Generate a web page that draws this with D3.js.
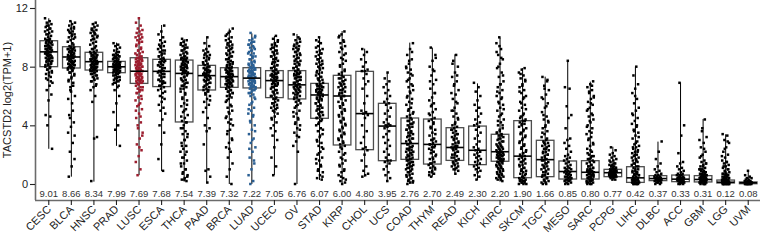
<!DOCTYPE html>
<html><head><meta charset="utf-8">
<script src="https://cdn.jsdelivr.net/npm/d3@7"></script>
<style>body{margin:0;background:#fff;} svg{display:block;font-family:"Liberation Sans",Arial,sans-serif;}</style>
</head><body><svg id="c" width="763" height="241"></svg>
<script>
const categories = ["CESC","BLCA","HNSC","PRAD","LUSC","ESCA","THCA","PAAD","BRCA","LUAD","UCEC","OV","STAD","KIRP","CHOL","UCS","COAD","THYM","READ","KICH","KIRC","SKCM","TGCT","MESO","SARC","PCPG","LIHC","DLBC","ACC","GBM","LGG","UVM"];
const medians = [9.01,8.66,8.34,7.99,7.69,7.68,7.54,7.39,7.32,7.22,7.05,6.76,6.07,6.00,4.80,3.95,2.76,2.70,2.49,2.30,2.20,1.90,1.66,0.85,0.80,0.77,0.42,0.37,0.33,0.31,0.12,0.08];
const q1 = [8.00,7.91,7.77,7.59,6.86,6.64,4.23,6.41,6.59,6.55,5.89,5.80,4.48,2.66,2.34,1.59,1.68,1.36,1.61,1.32,1.55,0.43,0.50,0.34,0.34,0.50,0.11,0.23,0.16,0.14,0.07,0.02];
const q3 = [9.77,9.36,8.98,8.36,8.61,8.50,8.45,8.09,7.93,7.93,7.73,7.73,6.86,7.41,7.68,5.50,4.50,4.43,3.84,3.95,3.39,4.32,2.98,1.57,1.59,1.00,1.18,0.57,0.61,0.57,0.27,0.14];
const whiskerLow = [2.4,0.5,0.16,2.6,0.6,0.89,0.16,0.05,0,0,0.61,0,0.27,0,0.5,0.16,0,0.5,0.73,0.27,0.16,0,0,0,0,0.3,0,0,0,0,0,0];
const whiskerHigh = [11.3,11.1,11.0,9.64,11.3,10.84,9.89,10.04,10.6,10.27,10.09,10.23,10.0,10.43,9.23,7.59,9.64,9.3,8.84,6.86,9.98,7.89,7.32,8.39,6.98,2.54,8.0,2.89,6.93,4.43,3.39,0.89];
const highlight = {LUSC:"#9c1d2e", LUAD:"#2a5f93"};
// sample point values per category, written in tenths of log2(TPM+1)
const pointValues = [
"113 111 110 109 108 107 106 105 104 103 102 101 100 99 99 98 97 97 96 96 95 95 94 94 93 93 92 92 91 91 90 90 90 89 89 88 88 87 87 86 86 85 84 84 83 82 81 80 79 78 77 76 75 73 71 69 67 64 61 57 47 46 40 24 98 97 96 95 94 93 92 91 90 89 88 87 86 85 84 83 82 81 80 78 76 74 72 70 102 104 106 108",
"111 110 109 108 107 106 105 104 103 102 101 100 99 98 97 96 94 93 93 92 92 91 91 90 90 89 89 88 88 87 87 87 86 86 85 85 84 84 83 83 82 82 81 81 80 80 79 79 78 77 76 74 72 70 67 64 60 55 47 42 39 35 28 22 17 12 5 95 93 92 91 90 89 88 87 86 85 84 83 82 81 80 79 78 76 75 73 71 69 66 100 102 104 106 63 58 50 45 33",
"110 109 108 107 106 105 104 103 102 101 100 99 98 97 96 95 93 92 91 90 89 89 88 88 87 87 86 86 85 85 85 84 84 84 83 83 83 82 82 82 81 81 80 80 80 79 79 79 78 78 78 77 77 76 75 74 73 72 71 70 68 66 64 60 56 32 31 2 94 92 90 89 88 87 86 85 84 83 82 81 80 79 78 77 76 75 74 72 70 67 99 101 103 105",
"96 95 94 93 92 91 90 89 88 88 87 87 86 86 85 84 83 83 83 82 82 82 81 81 81 80 80 80 80 80 80 79 79 79 78 78 78 77 77 77 76 76 76 75 74 73 72 71 70 69 68 66 64 60 55 49 40 37 26 90 88 87 86 85 84 84 83 82 81 80 79 79 78 77 76 75 74 73 72 71 70 69 67",
"113 110 108 106 105 104 103 102 101 100 99 98 97 96 94 92 91 90 89 88 87 86 85 85 84 84 83 83 82 82 81 81 80 80 79 79 78 78 77 76 76 75 75 74 74 73 73 72 72 71 71 70 70 69 69 68 67 66 65 64 63 62 60 59 57 55 53 51 48 45 42 38 35 31 27 23 19 15 10 6 100 97 95 93 91 89 87 86 85 84 83 82 81 80 79 78 77 76 75 74 73 72 71 70 69 68 66 64 62 58 54 50 46 40 33 25",
"108 104 102 100 98 97 96 95 94 93 92 91 90 89 88 87 86 85 84 84 83 83 82 81 81 80 79 78 77 77 76 76 75 74 73 72 71 70 70 69 68 67 66 65 64 62 60 58 56 54 52 50 48 44 40 35 27 17 9 94 91 89 87 85 83 81 79 77 75 73 71 69 67 63 59",
"99 98 97 96 95 94 93 92 91 90 89 88 87 86 86 85 85 84 83 83 82 82 81 81 80 80 79 79 78 78 77 77 76 76 75 74 73 72 71 70 69 68 67 66 65 63 61 59 57 55 53 51 49 47 45 43 42 40 38 36 34 32 30 28 26 24 22 20 18 16 14 12 10 8 6 4 3 2 97 95 93 91 89 87 86 85 84 83 82 81 80 79 78 77 76 75 73 71 69 67 65 62 58 54 50 46 42 38 34 30 26 22 18 14 10 7 5 3",
"100 96 94 92 91 90 89 88 87 86 85 84 83 82 81 80 79 79 78 78 77 77 76 76 75 75 74 73 73 72 71 71 70 69 68 67 66 65 64 63 62 60 58 56 54 52 49 45 40 38 36 27 10 9 5 1 88 86 84 82 80 78 77 76 75 74 73 72 71 70 69 68 66 64 61 57",
"106 104 102 100 99 98 97 96 95 94 93 92 91 90 89 88 87 86 85 84 83 82 81 80 79 79 78 78 77 77 76 76 75 75 74 74 73 73 73 72 72 71 71 70 70 69 69 68 68 67 67 66 65 64 63 62 61 60 59 58 56 54 52 50 48 46 44 42 40 37 34 31 28 25 22 18 14 10 5 0 103 101 97 95 93 91 89 87 85 83 82 81 80 79 78 77 76 75 74 73 72 71 70 69 68 67 66 65 64 63 62 60 57 53 49 45 41 36 30 24",
"103 101 99 98 97 96 95 94 93 92 91 90 89 88 87 86 85 84 83 82 81 80 79 79 78 78 77 77 76 76 75 75 74 74 73 73 72 72 71 71 70 70 69 69 68 68 67 67 66 66 65 64 63 62 61 60 58 56 54 52 50 48 46 43 40 37 34 31 28 25 22 18 14 10 6 2 0 100 97 95 93 91 89 87 85 83 82 81 80 79 78 77 76 75 74 73 72 71 70 69 68 67 66 65 64 62 59 55 51 47 42 36 30 24 16",
"101 99 97 96 95 94 93 92 91 90 89 88 87 86 85 84 83 82 81 80 79 78 77 76 76 75 75 74 74 73 73 72 72 71 71 70 69 68 68 67 66 65 64 63 62 61 60 59 58 57 56 55 54 53 52 51 50 48 46 44 42 40 38 36 33 30 25 18 12 6 98 95 93 91 89 87 85 83 81 80 79 78 77 76 75 74 73 72 71 70 69 68 67 66 64 62 60 58 55 52 49 45",
"102 100 98 97 96 95 94 93 92 91 90 89 88 87 86 85 84 83 82 81 80 79 78 77 76 76 75 75 74 73 73 72 71 70 69 68 67 66 66 65 64 63 62 62 61 60 59 58 57 56 55 54 52 50 48 46 44 42 40 38 35 32 29 26 22 0 99 96 94 92 90 88 86 84 82 80 79 78 77 76 75 74 73 72 71 70 69 68 67 66 65 64 63 61 59 57 53 49 45 41 37 33",
"100 98 96 94 92 91 90 89 88 87 86 85 84 83 82 81 80 79 78 77 76 75 74 73 72 71 70 68 67 67 66 65 65 64 63 63 62 61 60 59 58 57 56 55 54 53 52 51 50 49 48 47 46 45 44 42 40 38 36 34 32 30 28 26 24 22 20 18 16 14 12 10 8 6 4 3 97 93 89 85 82 79 76 73 71 69 68 67 66 65 64 63 62 61 60 59 58 57 55 53 51 49 47 45 43 41 37 33 29 25 21 17 13 9 5",
"104 102 100 98 96 94 92 90 88 86 84 82 80 78 76 75 73 72 71 70 69 68 67 66 65 64 63 62 61 60 59 57 55 53 51 49 47 45 43 41 39 37 35 33 31 29 27 26 24 22 20 18 16 14 12 10 8 6 4 2 1 0 101 97 93 89 85 81 77 74 72 70 68 66 64 62 60 58 56 54 52 50 48 46 44 42 40 38 36 34 32 30 28 25 21 17 13 9 5 3",
"92 90 88 85 83 80 78 77 77 75 72 70 68 65 60 55 50 49 48 47 45 40 36 32 28 25 24 23 20 16 12 9 7 6 5",
"76 72 70 68 66 64 62 60 58 56 55 54 52 50 48 46 44 42 41 40 40 39 38 36 34 32 30 28 26 24 22 20 18 16 16 15 14 12 10 8 6 4 2",
"96 92 88 85 82 80 78 76 74 72 70 68 66 64 62 60 58 56 54 52 50 48 47 46 44 43 42 41 40 39 38 37 36 35 34 33 32 31 30 29 28 27 26 25 24 23 23 22 21 20 20 19 18 17 16 15 14 13 12 11 10 9 8 7 6 5 4 3 2 1 0 90 84 79 75 71 67 63 59 55 51 49 45 43 41 39 37 35 33 31 29 27 25 24 22 21 19 18 17 16 15 14 13 12 11 10 8 6 4 2 1",
"93 88 84 80 77 74 71 68 65 62 59 57 55 53 51 49 47 45 44 43 41 39 37 35 33 31 30 29 28 27 26 25 24 22 21 19 18 17 15 14 13 12 11 10 9 8 7 5 86 78 70 62 54 48 42 38 34 30 27 25 23 20 17 14 11 8 6",
"88 84 80 76 73 70 67 64 61 58 55 52 50 48 46 44 42 40 39 38 37 36 35 34 33 32 31 30 29 28 27 26 25 25 24 23 22 21 20 19 18 17 16 15 14 13 12 11 10 9 7 82 74 68 62 56 50 45 41 37 34 31 28 26 24 22 20 18 16 14 12 10",
"69 66 63 60 57 54 52 50 48 46 44 42 41 40 39 37 35 33 31 29 27 25 24 23 22 21 20 19 18 17 16 15 14 13 12 11 10 9 8 6 5 3",
"100 96 92 88 85 82 79 76 73 70 68 66 64 62 60 58 56 54 52 50 48 46 44 42 40 38 36 35 34 33 32 31 30 29 28 27 26 25 24 23 22 22 21 20 20 19 19 18 18 17 17 16 16 15 15 14 13 12 11 10 9 8 7 6 5 4 3 2 94 90 86 80 74 68 63 59 55 51 47 43 40 37 35 33 31 29 27 26 25 24 23 22 21 21 20 20 19 18 17 16 15 14 13 12 11 10 9 8 7 6 5 4 3",
"79 78 76 74 72 70 68 66 64 62 60 58 56 54 52 50 48 46 44 43 42 41 40 38 36 34 32 30 28 26 24 22 21 20 19 18 17 16 15 14 13 12 11 10 9 8 7 6 5 4 4 3 3 2 2 1 1 0 0 75 71 67 63 59 55 51 47 45 43 41 39 37 35 33 31 29 27 25 23 21 19 17 15 13 11 9 7 5 3 2 1 0",
"73 70 67 64 61 58 55 52 49 46 44 42 40 38 36 34 32 30 29 28 27 26 25 24 23 22 21 20 19 18 17 16 15 14 13 12 11 10 9 8 7 6 5 4 3 2 1 0 71 65 59 53 47 43 39 35 31 28 26 24 22 20 18 16 14 12 10 8 6 4 2 1 0",
"84 66 65 53 47 45 38 31 30 28 26 24 22 20 19 18 17 16 15 14 13 12 11 11 10 10 9 9 8 8 8 7 7 6 6 5 5 5 4 4 3 3 3 2 2 1 1 0 0",
"70 68 66 64 62 60 58 56 54 52 50 48 46 44 42 40 38 36 34 32 30 28 26 24 22 20 19 18 17 16 15 14 13 12 11 10 10 9 9 8 8 8 7 7 6 6 5 5 4 4 3 3 2 2 1 1 0 0 67 63 59 55 51 47 43 39 35 31 27 23 21 19 17 15 13 12 11 10 9 8 7 6 5 4 3 2 1 0",
"25 23 21 20 19 18 17 16 15 14 13 13 12 12 11 11 10 10 10 9 9 9 9 8 8 8 8 8 7 7 7 7 7 6 6 6 6 5 5 5 5 4 4 3 3 16 14 12 11 10 9 8 7 6 5",
"80 74 68 65 62 58 55 52 50 47 45 43 41 39 37 35 33 31 29 27 26 25 24 23 22 21 20 19 18 17 16 15 14 13 12 11 10 9 8 7 6 6 5 5 4 4 3 3 3 2 2 2 1 1 1 0 0 0 60 48 40 36 32 28 25 22 20 18 16 14 12 10 9 8 7 6 5 4 3 2 1 0 0",
"29 22 17 14 12 10 9 8 7 6 6 5 5 5 4 4 4 4 4 3 3 3 3 3 2 2 2 2 1 1 1 0 0",
"69 40 33 21 15 14 12 11 10 9 8 7 7 6 6 6 5 5 5 4 4 4 4 3 3 3 3 3 2 2 2 2 2 1 1 1 1 0 0 0",
"44 36 32 28 25 22 20 18 16 15 14 13 12 11 10 10 9 9 8 8 7 7 6 6 6 5 5 5 4 4 4 4 3 3 3 3 3 2 2 2 2 1 1 1 1 0 0 0 38 30 24 19 14 12 10 8 7 6 5 4 3 2 1 0",
"34 33 30 28 25 22 20 18 16 15 14 13 12 11 10 9 8 7 7 6 6 5 5 4 4 4 3 3 3 3 2 2 2 2 2 1 1 1 1 1 1 1 1 0 0 0 0 0 29 24 19 15 12 10 8 7 6 5 4 3 3 2 2 2 1 1 1 1 0 0 0 0",
"9 6 5 4 4 3 3 2 2 2 2 1 1 1 1 1 1 1 1 1 1 0 0 0 0 0 0 0 0 0"
];
const yTicks = [0,4,8,12];
const yLabel = "TACSTD2 log2(TPM+1)";

const svg = d3.select("#c");
const x = d3.scaleBand().domain(categories).range([37.5, 759.5]).paddingInner(0.22).paddingOuter(0.11);
const y = d3.scaleLinear().domain([0,12]).range([184, 8]);
const axisY0 = 200, axisX0 = 35;

const gx = svg.append("g").attr("transform", `translate(0,${axisY0})`)
  .call(d3.axisBottom(x).tickSize(5).tickSizeOuter(0));
gx.select(".domain").attr("d", `M${axisX0},0.5H760`).attr("stroke","#6b6b6b").attr("stroke-width",1.6);
gx.selectAll(".tick line").attr("stroke","#222").attr("stroke-width",1.1);
gx.selectAll(".tick text").attr("font-size",11).attr("fill","#222")
  .attr("text-anchor","end").attr("dy",0).attr("y",0)
  .attr("transform","translate(3,10) rotate(-45)");

const gy = svg.append("g").attr("transform", `translate(${axisX0},0)`)
  .call(d3.axisLeft(y).tickValues(yTicks).tickSize(5).tickSizeOuter(0));
gy.select(".domain").attr("d", `M0.5,0V${axisY0}`).attr("stroke","#6b6b6b").attr("stroke-width",1.6);
gy.selectAll(".tick line").attr("stroke","#222").attr("stroke-width",1.1);
gy.selectAll(".tick text").attr("font-size",11).attr("fill","#222").attr("x",-7);

svg.append("text").attr("transform","translate(11,100) rotate(-90)")
  .attr("text-anchor","middle").attr("font-size",11).attr("fill","#222").text(yLabel);

const bw = x.bandwidth();
const g = svg.append("g");
categories.forEach((c, i) => {
  const cx = x(c) + bw/2;
  const col = highlight[c] || "#000";
  g.append("line").attr("x1",cx).attr("x2",cx).attr("y1",y(whiskerLow[i])).attr("y2",y(whiskerHigh[i]))
    .attr("stroke","#000").attr("stroke-width",1);
  g.append("rect").attr("x",x(c)).attr("width",bw).attr("y",y(q3[i])).attr("height",y(q1[i])-y(q3[i]))
    .attr("fill","none").attr("stroke","#4d4d4d").attr("stroke-width",1.3);
  const vals = pointValues[i].split(" ").map(v => +v/10);
  g.append("g").selectAll("rect").data(vals).join("rect")
    .attr("x",(d,j) => cx - 1.25 + (((j*0.6180339 + i*0.37) % 1) - 0.5) * 7.5)
    .attr("y",d => y(d) - 1.25).attr("width",2.5).attr("height",2.5).attr("fill",col);
  g.append("line").attr("x1",x(c)).attr("x2",x(c)+bw).attr("y1",y(medians[i])).attr("y2",y(medians[i]))
    .attr("stroke","#000").attr("stroke-width",1.6);
  g.append("text").attr("x",cx).attr("y",196.5).attr("text-anchor","middle")
    .attr("font-size",9.5).attr("fill","#333").text(medians[i].toFixed(2));
});
</script></body></html>
